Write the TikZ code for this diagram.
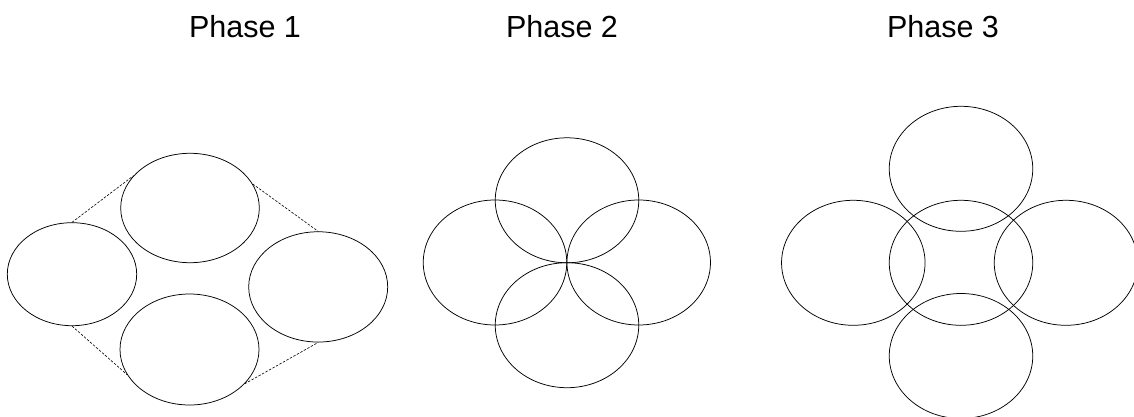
\documentclass[tikz,border=0pt]{standalone}
\usepackage{fontspec}
\setmainfont{Liberation Sans}
\usetikzlibrary{shapes.geometric}
\tikzset{
  oval/.style={draw=black, line width=0.75pt, ellipse, inner sep=0pt, minimum width=#1},
  oval/.default={143pt},
  hoop/.style={draw=black, line width=0.75pt, ellipse, inner sep=0pt, minimum width=143.5pt, minimum height=125pt},
  linkdash/.style={draw=black, line width=0.6pt, dash pattern=on 2.5pt off 1.5pt},
  phase/.style={font=\fontsize{30.5}{36}\selectfont, anchor=base, inner sep=0pt}
}
\begin{document}
\begin{tikzpicture}[x=1pt,y=-1pt]
\useasboundingbox (0,0) rectangle (1134,417);
% titles
\node[phase] (t1) at (245,37.3) {Phase 1};
\node[phase] (t2) at (562,37.3) {Phase 2};
\node[phase] (t3) at (943,37.3) {Phase 3};
% Phase 1
\node[oval=129.4pt, minimum height=103pt] (L1) at (72,274.2) {};
\node[oval=138.6pt, minimum height=109.4pt] (T1) at (190,208) {};
\node[oval=139pt, minimum height=110.3pt] (R1) at (318.2,286.9) {};
\node[oval=139pt, minimum height=111pt] (B1) at (189.5,349.5) {};
\draw[linkdash] (L1.north) -- (T1.150.7);
\draw[linkdash] (T1.21.2) -- (R1.north);
\draw[linkdash] (L1.south) -- (B1.202.9);
\draw[linkdash] (B1.328.6) -- (R1.south);
% Phase 2
\node[hoop] (T2) at (567,200.3) {};
\node[hoop] (L2) at (495,262.5) {};
\node[hoop] (R2) at (638.7,262.5) {};
\node[hoop] (B2) at (567,325.2) {};
% Phase 3
\node[hoop] (T3) at (961,168.8) {};
\node[hoop] (C3) at (961,262.8) {};
\node[hoop] (L3) at (853.3,262.8) {};
\node[hoop] (R3) at (1066,262.8) {};
\node[hoop] (B3) at (961,356) {};
\end{tikzpicture}
\end{document}
